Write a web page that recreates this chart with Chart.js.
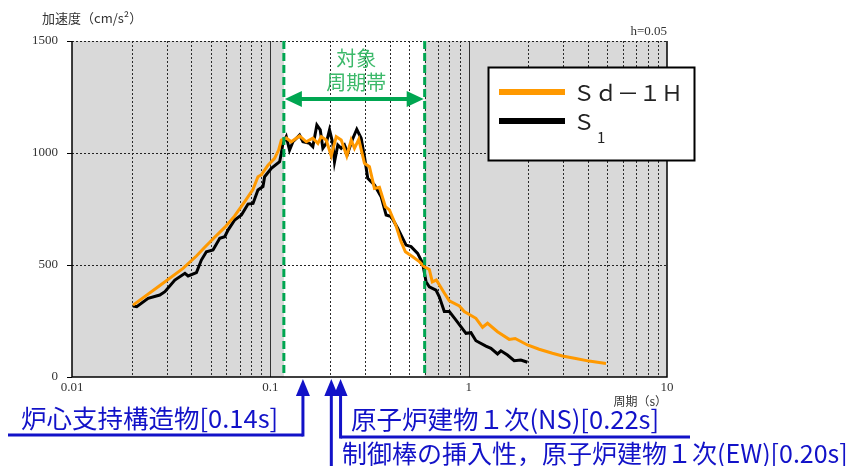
<!DOCTYPE html>
<html><head><meta charset="utf-8">
<script src="https://cdn.jsdelivr.net/npm/chart.js@4.4.1/dist/chart.umd.min.js"></script>
<style>html,body{margin:0;padding:0;background:#fff;}#wrap{width:865px;height:466px;}</style>
</head><body><div id="wrap"><canvas id="c" width="865" height="466"></canvas></div>
<script>
// ---- data (period [s], acceleration [cm/s2]) ----
const periodsSd = [0.0203,0.0272,0.0363,0.0424,0.0467,0.0524,0.0589,0.0661,0.0743,0.0818,0.0866,0.0901,0.0973,0.1051,0.1101,0.1136,0.1203,0.1275,0.1404,0.1518,0.1638,0.1737,0.1806,0.1913,0.2028,0.2149,0.2277,0.2429,0.2556,0.2656,0.2792,0.2983,0.3160,0.3349,0.3549,0.3803,0.3985,0.4306,0.4563,0.4796,0.5221,0.5641,0.5976,0.6333,0.6557,0.6869,0.7536,0.7988,0.897,0.950,1.088,1.175,1.245,1.398,1.601,1.716,1.979,2.266,2.644,2.970,3.467,4.046,4.926];
const valuesSd  = [321,403,485,540,579,624,668,719,783,838,894,902,946,976,1013,1058,1067,1050,1076,1050,1066,1043,1073,1058,987,1073,1058,987,1058,1021,1061,954,939,842,847,760,746,674,604,559,537,515,492,480,425,433,375,340,317,292,262,222,240,202,168,172,143,124,106,94,83,71,60];
const periodsS1 = [0.0203,0.0212,0.0242,0.0277,0.0294,0.0330,0.0371,0.0385,0.0424,0.0449,0.0476,0.0514,0.0556,0.0589,0.0612,0.0661,0.0715,0.0772,0.0818,0.0866,0.0918,0.0936,0.1012,0.1114,0.1136,0.1157,0.1203,0.1250,0.1300,0.1404,0.1460,0.1577,0.1638,0.1716,0.1785,0.1840,0.1913,0.1988,0.2065,0.2107,0.2189,0.2277,0.2365,0.2457,0.2587,0.2728,0.2871,0.2983,0.3098,0.3349,0.3620,0.3836,0.4064,0.4387,0.4835,0.5124,0.5530,0.5861,0.6096,0.6333,0.6843,0.7112,0.7536,0.7988,0.8632,0.9692,1.027,1.088,1.222,1.295,1.398,1.454,1.569,1.696,1.833,1.979];
const valuesS1  = [317,314,351,366,381,433,463,451,466,522,559,567,619,626,656,701,723,772,775,835,850,894,932,961,999,1043,1073,1013,1050,1080,1050,1043,1028,1125,1103,1021,1043,1103,1043,961,1036,1021,1036,999,1058,1106,1066,983,887,857,805,723,716,664,589,582,552,508,425,403,388,358,292,292,254,195,198,162,138,128,103,117,98,73,76,66];
const seriesLabels = ['Ｓｄ－１Ｈ', 'Ｓ'];
const seriesSub = ['', '1'];
const seriesColors = ['#ff9900', '#000000'];
const xTickValues = [0.01, 0.1, 1, 10];
const xTickLabels = ['0.01', '0.1', '1', '10'];
const yTickValues = [0, 500, 1000, 1500];
const yTickLabels = ['0', '500', '1000', '1500'];
const bandPeriods = [0.117, 0.6];
const bandTitle = ['対象', '周期帯'];
const yTitle = '加速度（cm/s²）';
const xTitle = '周期（s）';
const dampingNote = 'h=0.05';
const targetTexts = ['炉心支持構造物[0.14s]', '原子炉建物１次(NS)[0.22s]', '制御棒の挿入性，原子炉建物１次(EW)[0.20s]'];
const targetArrowPeriods = [0.146, 0.226, 0.203];

const CJK = '"Noto Sans CJK JP", "Noto Sans", sans-serif';
const SERIF = '"Liberation Serif", "DejaVu Serif", serif';
const GREEN = '#00a651', GREEN_TXT = '#3cb96a', BLUE = '#1212c8';

function pts(px, vy){ return px.map((p,i)=>({x:p, y:vy[i]})); }

const drawPlugin = {
  id: 'custom',
  beforeDraw(chart){
    const {ctx, chartArea:a, scales:{x, y}} = chart;
    ctx.save();
    ctx.fillStyle = '#d9d9d9';
    ctx.fillRect(a.left, a.top, a.right-a.left, a.bottom-a.top);
    const b0 = x.getPixelForValue(bandPeriods[0]), b1 = x.getPixelForValue(bandPeriods[1]);
    ctx.fillStyle = '#fff';
    ctx.fillRect(b0, a.top, b1-b0, a.bottom-a.top);
    ctx.restore();
  },
  beforeDatasetsDraw(chart){
    const {ctx, chartArea:a, scales:{x, y}} = chart;
    ctx.save();
    ctx.lineWidth = 1;
    for (let d = -2; d < 1; d++) {
      for (let m = 1; m < 10; m++) {
        const v = m * Math.pow(10, d);
        if (v <= xTickValues[0] + 1e-9) continue;
        const px = Math.round(x.getPixelForValue(v)) + 0.5;
        ctx.strokeStyle = m === 1 ? '#333' : '#2a2a2a';
        ctx.setLineDash(m === 1 ? [] : [2, 2]);
        ctx.beginPath(); ctx.moveTo(px, a.top); ctx.lineTo(px, a.bottom); ctx.stroke();
      }
    }
    ctx.strokeStyle = '#222';
    ctx.setLineDash([2, 2]);
    yTickValues.forEach(v => {
      if (v === 0) return;
      const py = Math.round(y.getPixelForValue(v)) + 0.5;
      ctx.beginPath(); ctx.moveTo(a.left, py); ctx.lineTo(a.right, py); ctx.stroke();
    });
    ctx.setLineDash([]);
    ctx.strokeStyle = '#000'; ctx.lineWidth = 1.5;
    ctx.beginPath();
    ctx.moveTo(a.left, a.top); ctx.lineTo(a.left, a.bottom); ctx.lineTo(a.right, a.bottom); ctx.lineTo(a.right, a.top);
    ctx.stroke();
    ctx.lineWidth = 1;
    yTickValues.forEach(v => {
      const py = Math.round(y.getPixelForValue(v)) + 0.5;
      ctx.beginPath(); ctx.moveTo(a.left - 5, py); ctx.lineTo(a.left, py); ctx.stroke();
    });
    ctx.restore();
  },
  afterDatasetsDraw(chart){
    const {ctx, chartArea:a, scales:{x, y}} = chart;
    ctx.save();
    const b0 = x.getPixelForValue(bandPeriods[0]), b1 = x.getPixelForValue(bandPeriods[1]);
    ctx.strokeStyle = GREEN; ctx.lineWidth = 3; ctx.setLineDash([8, 4]);
    [b0, b1].forEach(px => { ctx.beginPath(); ctx.moveTo(px, a.top); ctx.lineTo(px, a.bottom); ctx.stroke(); });
    ctx.setLineDash([]);
    const ay = 99, hl = 18, hw = 8;
    ctx.fillStyle = GREEN; ctx.strokeStyle = GREEN; ctx.lineWidth = 4;
    ctx.beginPath(); ctx.moveTo(b0 + hl - 2, ay); ctx.lineTo(b1 - hl + 2, ay); ctx.stroke();
    ctx.beginPath(); ctx.moveTo(b0 + 1, ay); ctx.lineTo(b0 + hl, ay - hw); ctx.lineTo(b0 + hl, ay + hw); ctx.closePath(); ctx.fill();
    ctx.beginPath(); ctx.moveTo(b1 - 1, ay); ctx.lineTo(b1 - hl, ay - hw); ctx.lineTo(b1 - hl, ay + hw); ctx.closePath(); ctx.fill();
    const cx = (b0 + b1) / 2 + 2;
    ctx.fillStyle = GREEN_TXT; ctx.font = '20px ' + CJK; ctx.textAlign = 'center'; ctx.textBaseline = 'middle';
    ctx.fillText(bandTitle[0], cx, 58);
    ctx.fillText(bandTitle[1], cx, 82);
    ctx.restore();
  },
  afterDraw(chart){
    const {ctx, chartArea:a, scales:{x, y}} = chart;
    ctx.save();
    ctx.fillStyle = '#333'; ctx.textBaseline = 'middle';
    ctx.font = '13px ' + CJK; ctx.textAlign = 'left';
    ctx.fillText(yTitle, 42, 18);
    ctx.font = '13px ' + SERIF; ctx.textAlign = 'right';
    ctx.fillText(dampingNote, a.right, 32);
    ctx.font = '12px ' + CJK;
    ctx.fillText(xTitle, a.right, 401);
    const lx = 488.5, ly = 67.5, lw = 206, lh = 93;
    ctx.fillStyle = '#fff'; ctx.fillRect(lx, ly, lw, lh);
    ctx.strokeStyle = '#000'; ctx.lineWidth = 2; ctx.strokeRect(lx, ly, lw, lh);
    const rowsY = [92, 121];
    ctx.lineWidth = 6;
    seriesLabels.forEach((lab, i) => {
      ctx.strokeStyle = seriesColors[i];
      ctx.beginPath(); ctx.moveTo(499, rowsY[i]); ctx.lineTo(565, rowsY[i]); ctx.stroke();
      ctx.fillStyle = '#222'; ctx.textAlign = 'left'; ctx.textBaseline = 'middle';
      ctx.font = '22px ' + CJK;
      ctx.fillText(lab, 573, rowsY[i] + 1);
      if (seriesSub[i]) {
        const w = ctx.measureText(lab).width;
        ctx.font = '15px ' + CJK;
        ctx.fillText(seriesSub[i], 573 + w + 2, rowsY[i] + 16);
      }
    });
    const tipY = a.bottom + 2, baseY = a.bottom + 19;
    ctx.strokeStyle = BLUE; ctx.fillStyle = BLUE; ctx.lineWidth = 3;
    const ax = targetArrowPeriods.map(p => x.getPixelForValue(p));
    function arrow(px, fromY){
      ctx.beginPath(); ctx.moveTo(px, fromY); ctx.lineTo(px, baseY - 1); ctx.stroke();
      ctx.beginPath(); ctx.moveTo(px, tipY); ctx.lineTo(px - 7, baseY); ctx.lineTo(px + 7, baseY); ctx.closePath(); ctx.fill();
    }
    ctx.beginPath(); ctx.moveTo(8, 435); ctx.lineTo(ax[0], 435); ctx.stroke();
    arrow(ax[0], 436.5);
    ctx.beginPath(); ctx.moveTo(ax[1], 437); ctx.lineTo(690, 437); ctx.stroke();
    arrow(ax[1], 438.5);
    arrow(ax[2], 466);
    ctx.font = '25.5px ' + CJK; ctx.textAlign = 'left'; ctx.textBaseline = 'middle';
    ctx.fillText(targetTexts[0], 21, 418);
    ctx.fillText(targetTexts[1], 351, 419);
    ctx.font = '25px ' + CJK;
    ctx.fillText(targetTexts[2], 342, 453);
    ctx.restore();
  }
};

new Chart(document.getElementById('c'), {
  type: 'line',
  data: {
    datasets: [
      { label: seriesLabels[0], data: pts(periodsSd, valuesSd), borderColor: seriesColors[0], borderWidth: 3, pointRadius: 0, tension: 0, order: 0 },
      { label: seriesLabels[1] + seriesSub[1], data: pts(periodsS1, valuesS1), borderColor: seriesColors[1], borderWidth: 3, pointRadius: 0, tension: 0, order: 1 }
    ]
  },
  options: {
    responsive: false, animation: false, devicePixelRatio: 1,
    layout: { padding: { left: 0, right: 198, top: 41, bottom: 0 } },
    plugins: { legend: { display: false }, tooltip: { enabled: false } },
    scales: {
      x: {
        type: 'logarithmic', min: 0.01, max: 10,
        grid: { display: false }, border: { display: false },
        afterBuildTicks: s => { s.ticks = xTickValues.map(v => ({ value: v })); },
        afterFit: s => { s.height = 89; },
        ticks: { autoSkip: false, maxRotation: 0, padding: -5, color: '#333', font: { family: SERIF, size: 13 },
          callback: (v, i) => xTickLabels[i] }
      },
      y: {
        min: 0, max: 1500,
        grid: { display: false }, border: { display: false },
        afterBuildTicks: s => { s.ticks = yTickValues.map(v => ({ value: v })); },
        afterFit: s => { s.width = 72; },
        ticks: { padding: 6, color: '#333', font: { family: SERIF, size: 13 },
          callback: (v, i) => yTickLabels[i] }
      }
    }
  },
  plugins: [drawPlugin]
});
</script></body></html>
